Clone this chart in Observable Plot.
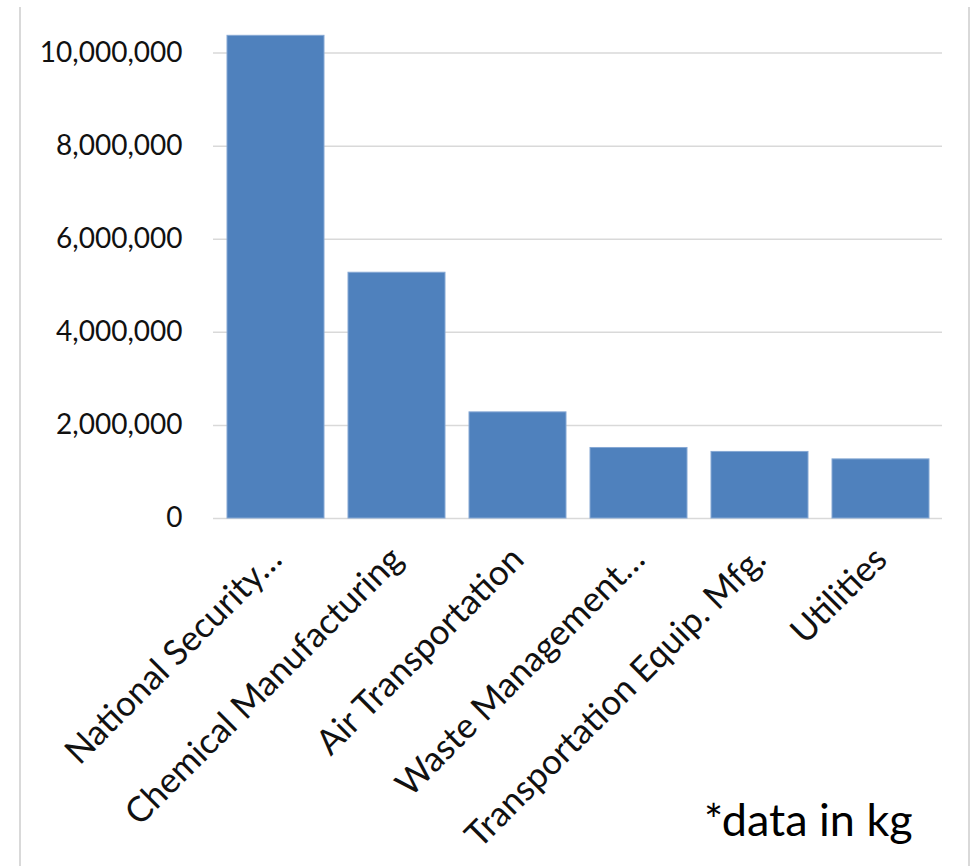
<!DOCTYPE html>
<html><head><meta charset="utf-8">
<script src="https://cdn.jsdelivr.net/npm/d3@7"></script>
<script src="https://cdn.jsdelivr.net/npm/@observablehq/plot@0.6"></script>
<style>
body{margin:0;background:#fff;}
#wrap{position:relative;width:979px;height:866px;overflow:hidden;font-family:Lato,sans-serif;background:#fff;}
#wrap svg{position:absolute;left:0;top:0;}
.vline{position:absolute;top:7px;bottom:0;width:2px;background:#d9d9d9;}
#caption{position:absolute;left:704px;top:797px;font-size:45px;line-height:45px;color:#000;white-space:nowrap;}
</style></head>
<body>
<div id="wrap"><div class="vline" style="left:19px"></div><div class="vline" style="left:968px"></div><div id="caption">*data in kg</div></div>
<script>
const categories = ["National Security…", "Chemical Manufacturing", "Air Transportation", "Waste Management…", "Transportation Equip. Mfg.", "Utilities"];
const values = [10370000, 5280000, 2280000, 1515000, 1430000, 1270000];
const yTicks = [0, 2000000, 4000000, 6000000, 8000000, 10000000];
const data = categories.map((c, i) => ({category: c, value: values[i]}));

const chart = Plot.plot({
  width: 979,
  height: 866,
  marginLeft: 213,
  marginRight: 37,
  marginTop: 6,
  marginBottom: 348,
  style: {fontFamily: "Lato, sans-serif", background: "transparent", color: "#111"},
  x: {domain: categories, paddingInner: 0.2, paddingOuter: 0.1, label: null},
  y: {domain: [0, 11000000], label: null},
  marks: [
    Plot.ruleY(yTicks, {stroke: "#d9d9d9", strokeWidth: 1.5}),
    Plot.barY(data, {x: "category", y: "value", fill: "#4f81bd", stroke: "#86a8d4", strokeWidth: 1}),
    Plot.axisY({ticks: yTicks, tickSize: 0, tickPadding: 31, tickFormat: d3.format(","), fontSize: 28, label: null}),
    Plot.axisX({tickSize: 0, tickRotate: -45, tickPadding: 35, fontSize: 35, label: null})
  ]
});
document.getElementById("wrap").prepend(chart);
</script>
</body></html>
